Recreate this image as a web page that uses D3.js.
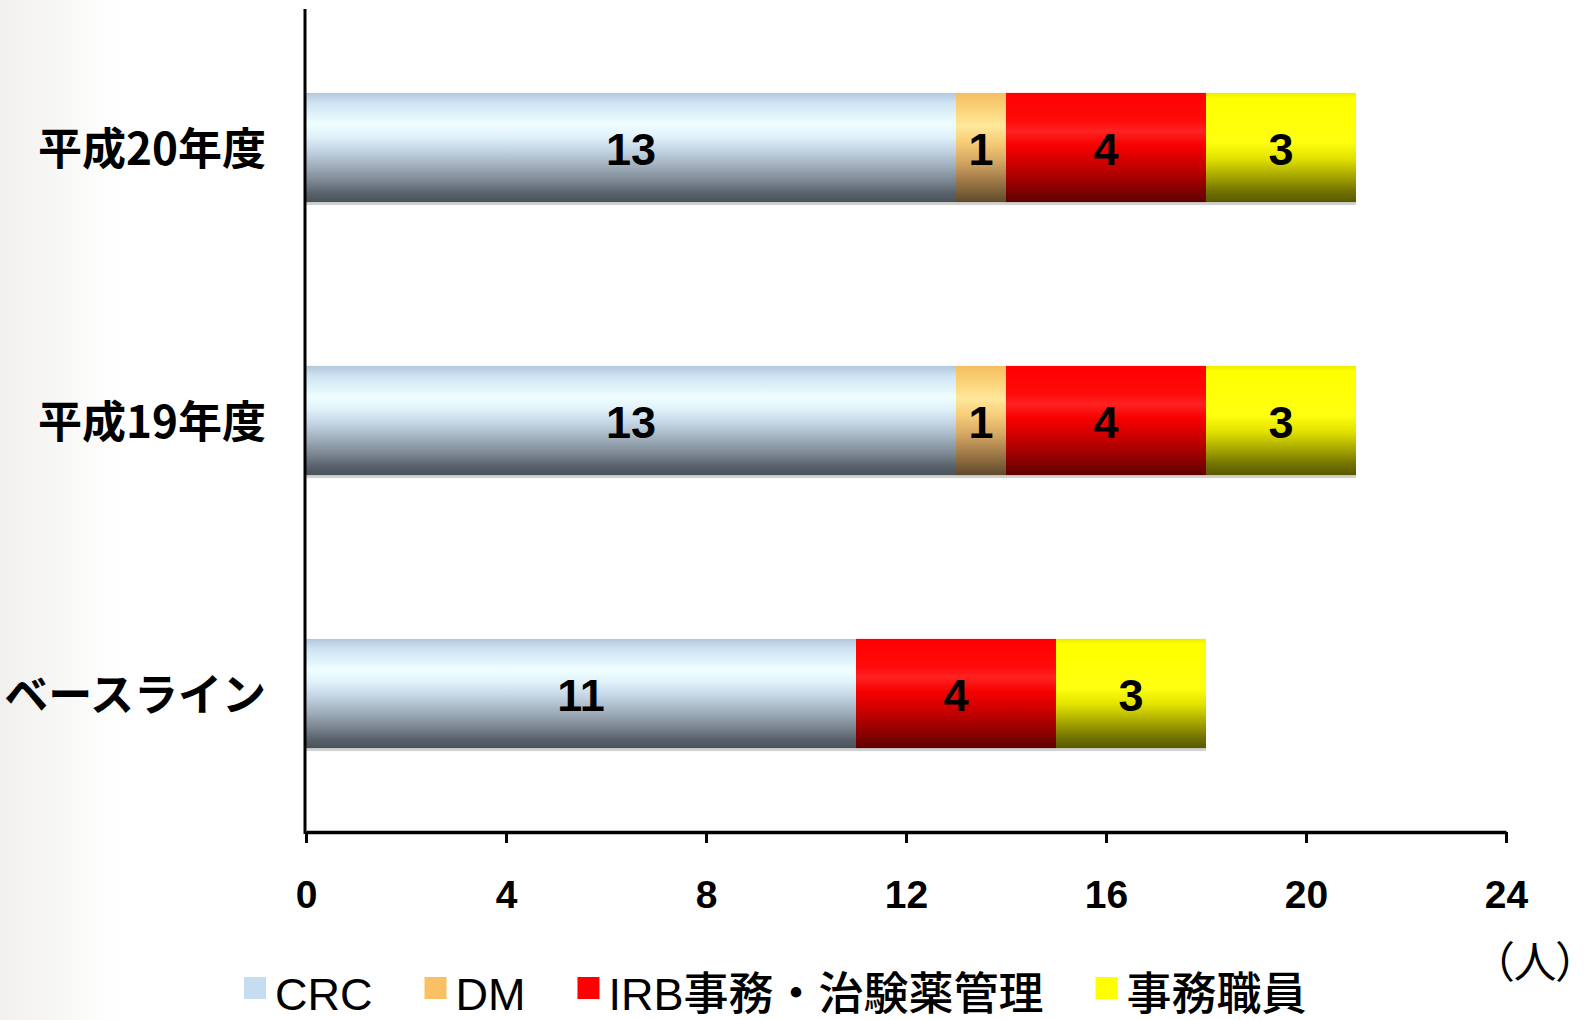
<!DOCTYPE html>
<html lang="ja">
<head>
<meta charset="utf-8">
<title>職員数の推移</title>
<script src="https://cdn.jsdelivr.net/npm/d3@7"></script>
<style>
  html, body { margin: 0; padding: 0; background: #fff; }
  svg { display: block; }
</style>
</head>
<body>
<svg id="chart" width="1586" height="1020"></svg>
<script>
// Staff headcount per year, split by role
const categories = ["平成20年度", "平成19年度", "ベースライン"];
const seriesNames = ["CRC", "DM", "IRB事務・治験薬管理", "事務職員"];
const crcValues = [13, 13, 11];
const dmValues = [1, 1, 0];
const irbValues = [4, 4, 4];
const clericalValues = [3, 3, 3];
const xTickValues = [0, 4, 8, 12, 16, 20, 24];
const unitLabel = "（人）";

const rows = categories.map((c, i) => ({
  category: c,
  "CRC": crcValues[i],
  "DM": dmValues[i],
  "IRB事務・治験薬管理": irbValues[i],
  "事務職員": clericalValues[i]
}));

const W = 1586, H = 1020;
const plot = { left: 306, right: 1506, top: 9, bottom: 832 };

const svg = d3.select("#chart");
const defs = svg.append("defs");

// soft grey fade along the left edge of the page
const bg = defs.append("linearGradient").attr("id", "bgFade")
  .attr("x1", 0).attr("x2", 1).attr("y1", 0).attr("y2", 0);
bg.append("stop").attr("offset", 0).attr("stop-color", "#f1f0ed");
bg.append("stop").attr("offset", 1).attr("stop-color", "#ffffff");
svg.append("rect").attr("width", W).attr("height", H).attr("fill", "#fff");
svg.append("rect").attr("width", 120).attr("height", H).attr("fill", "url(#bgFade)");

// vertical shading for each series
const shading = {
  "CRC": [[0, "#b4c8dc"], [0.1, "#cfe4f4"], [0.28, "#effeff"], [0.4, "#e0f1fa"],
          [0.52, "#c4d6e6"], [0.66, "#a3b1bf"], [0.8, "#7d8994"], [0.92, "#59626c"], [1, "#4a5159"]],
  "DM": [[0, "#f4be60"], [0.15, "#fbd37a"], [0.3, "#ffe89c"], [0.45, "#f7cd78"],
         [0.62, "#d6a864"], [0.8, "#a07a48"], [1, "#5f4a2c"]],
  "IRB事務・治験薬管理": [[0, "#ff0000"], [0.25, "#ff0a0a"], [0.35, "#ff2222"], [0.48, "#f80000"],
         [0.68, "#c40000"], [0.85, "#900000"], [1, "#5e0000"]],
  "事務職員": [[0, "#ecec00"], [0.05, "#ffff00"], [0.45, "#ffff10"], [0.6, "#e2e200"],
         [0.75, "#abab00"], [0.9, "#737300"], [1, "#595900"]]
};
const legendColor = {
  "CRC": "#c6dcf1",
  "DM": "#f9c164",
  "IRB事務・治験薬管理": "#ff0000",
  "事務職員": "#ffff00"
};
seriesNames.forEach((name, i) => {
  const g = defs.append("linearGradient").attr("id", "shade" + i)
    .attr("x1", 0).attr("x2", 0).attr("y1", 0).attr("y2", 1);
  shading[name].forEach(([o, c]) => g.append("stop").attr("offset", o).attr("stop-color", c));
});

const x = d3.scaleLinear().domain([0, 24]).range([plot.left, plot.right]);
const y = d3.scaleBand().domain(categories).range([11, 830])
  .paddingInner(0.6).paddingOuter(0.3);

const stacked = d3.stack().keys(seriesNames)(rows);
const totals = rows.map(r => d3.sum(seriesNames, k => r[k]));

const latin = "'Liberation Sans', 'Noto Sans CJK JP', sans-serif";
const cjk = "'Noto Sans CJK JP', sans-serif";

// faint drop edge under every bar
svg.append("g").selectAll("rect")
  .data(rows).join("rect")
  .attr("x", plot.left)
  .attr("y", d => y(d.category) + 1)
  .attr("width", (d, i) => x(totals[i]) - plot.left)
  .attr("height", y.bandwidth() + 2)
  .attr("fill", "#d2d2d2");

// bars
const layers = svg.append("g").selectAll("g").data(stacked).join("g")
  .attr("fill", (d, i) => `url(#shade${i})`);

layers.selectAll("rect")
  .data(d => d.filter(e => e[1] - e[0] > 0))
  .join("rect")
  .attr("x", d => x(d[0]))
  .attr("y", d => y(d.data.category))
  .attr("width", d => x(d[1]) - x(d[0]))
  .attr("height", y.bandwidth());

// value labels
svg.append("g").selectAll("g").data(stacked).join("g")
  .selectAll("text")
  .data(d => d.filter(e => e[1] - e[0] > 0))
  .join("text")
  .attr("x", d => (x(d[0]) + x(d[1])) / 2)
  .attr("y", d => y(d.data.category) + y.bandwidth() / 2)
  .attr("dy", "0.38em")
  .attr("text-anchor", "middle")
  .attr("font-family", latin)
  .attr("font-weight", "bold")
  .attr("font-size", 45)
  .attr("fill", "#000")
  .text(d => d[1] - d[0]);

// category axis
svg.append("line")
  .attr("x1", plot.left - 1).attr("x2", plot.left - 1)
  .attr("y1", plot.top).attr("y2", plot.bottom + 2)
  .attr("stroke", "#000").attr("stroke-width", 3);

svg.append("g").selectAll("text").data(categories).join("text")
  .attr("x", plot.left - 40)
  .attr("y", d => y(d) + y.bandwidth() / 2)
  .attr("dy", "0.4em")
  .attr("text-anchor", "end")
  .attr("font-family", cjk)
  .attr("font-weight", "bold")
  .attr("font-size", 44)
  .attr("fill", "#000")
  .text(d => d);

// value axis
const xAxis = svg.append("g")
  .attr("transform", `translate(0,${plot.bottom})`)
  .call(d3.axisBottom(x).tickValues(xTickValues).tickSize(11).tickSizeOuter(0).tickPadding(37));
xAxis.select(".domain").attr("stroke", "#000").attr("stroke-width", 3.5);
xAxis.selectAll(".tick line").attr("stroke", "#000").attr("stroke-width", 3);
xAxis.selectAll(".tick text")
  .attr("font-family", latin)
  .attr("font-weight", "bold")
  .attr("font-size", 39)
  .attr("fill", "#000");

// unit caption, with proportional brackets so it stays inside the page
svg.append("text")
  .attr("x", 1535).attr("y", 978)
  .attr("text-anchor", "middle")
  .attr("font-family", cjk)
  .attr("font-size", 43)
  .style("font-feature-settings", "'palt'")
  .attr("fill", "#000")
  .text(unitLabel);

// legend
const legend = svg.append("g");
let cursor = 244;
seriesNames.forEach(name => {
  legend.append("rect")
    .attr("x", cursor).attr("y", 977)
    .attr("width", 22).attr("height", 22)
    .attr("fill", legendColor[name]);
  const t = legend.append("text")
    .attr("x", cursor + 31).attr("y", 1010)
    .attr("font-family", latin)
    .attr("font-weight", 500)
    .attr("font-size", 45)
    .attr("fill", "#000")
    .text(name);
  cursor += 31 + t.node().getComputedTextLength() + 52;
});
</script>
</body>
</html>
